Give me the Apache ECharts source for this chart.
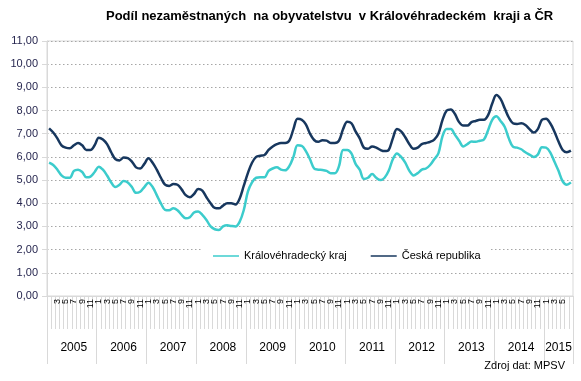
<!DOCTYPE html>
<html>
<head>
<meta charset="utf-8">
<script src="https://cdn.jsdelivr.net/npm/echarts@6/dist/echarts.min.js"></script>
<style>html,body{margin:0;padding:0;background:#fff;}#c{width:581px;height:381px;}</style>
</head>
<body>
<div id="c"></div>
<script>
var years = ['2005','2006','2007','2008','2009','2010','2011','2012','2013','2014','2015'];
var monthsInYear = [12,12,12,12,12,12,12,12,12,12,7];
var seriesNames = ['Královéhradecký kraj', 'Česká republika'];
var yTickLabels = ['0,00','1,00','2,00','3,00','4,00','5,00','6,00','7,00','8,00','9,00','10,00','11,00'];

var hkValues = [
  5.75,5.65,5.45,5.2,5.1,5.1,5.4,5.45,5.35,5.12,5.15,5.35,
  5.58,5.45,5.2,4.9,4.7,4.8,4.96,4.9,4.7,4.45,4.5,4.7,
  4.89,4.7,4.35,4.0,3.72,3.7,3.78,3.7,3.5,3.35,3.4,3.6,
  3.64,3.5,3.28,3.0,2.88,2.85,3.0,3.05,3.02,3.0,3.2,3.7,
  4.5,4.9,5.1,5.12,5.12,5.4,5.5,5.55,5.45,5.42,5.6,6.0,
  6.5,6.48,6.25,5.9,5.5,5.45,5.44,5.4,5.3,5.3,5.6,6.3,
  6.3,6.15,5.7,5.45,5.05,5.1,5.26,5.1,5.0,5.1,5.4,5.9,
  6.15,6.0,5.75,5.4,5.2,5.3,5.45,5.5,5.65,5.9,6.15,6.9,
  7.2,7.2,6.95,6.7,6.45,6.55,6.66,6.65,6.7,6.75,7.15,7.6,
  7.75,7.55,7.3,6.8,6.44,6.4,6.33,6.2,6.1,6.0,6.1,6.42,
  6.4,6.2,5.8,5.4,4.95,4.8,4.9
];
var czValues = [
  7.23,7.05,6.8,6.5,6.4,6.37,6.5,6.6,6.5,6.3,6.3,6.5,
  6.83,6.75,6.55,6.2,5.9,5.85,5.97,5.95,5.8,5.55,5.5,5.7,
  5.94,5.75,5.45,5.1,4.8,4.75,4.83,4.8,4.6,4.35,4.26,4.4,
  4.62,4.55,4.26,4.0,3.8,3.78,3.9,4.0,4.0,3.95,4.2,4.75,
  5.3,5.75,6.0,6.05,6.08,6.3,6.45,6.55,6.6,6.6,6.7,7.2,
  7.65,7.6,7.4,7.0,6.73,6.65,6.72,6.7,6.6,6.6,6.7,7.2,
  7.52,7.45,7.1,6.8,6.4,6.35,6.45,6.4,6.3,6.25,6.3,6.8,
  7.2,7.1,6.85,6.55,6.35,6.4,6.55,6.6,6.65,6.75,7.0,7.6,
  8.0,8.05,7.85,7.5,7.35,7.35,7.5,7.55,7.6,7.6,7.8,8.3,
  8.67,8.5,8.1,7.7,7.45,7.42,7.45,7.38,7.2,7.05,7.2,7.6,
  7.65,7.45,7.1,6.66,6.3,6.2,6.27
];

var categories = [];
var yearStart = [];
years.forEach(function (y, yi) {
  yearStart.push(categories.length);
  for (var m = 1; m <= monthsInYear[yi]; m++) {
    categories.push(String(m));
  }
});
var yearLabelIndex = {};
years.forEach(function (y, yi) {
  var idx = yearStart[yi] + Math.floor((monthsInYear[yi] - 1) / 2);
  yearLabelIndex[idx] = { year: y, odd: monthsInYear[yi] % 2 === 1 };
});

var FONT = '"Liberation Sans", Arial, sans-serif';
var chart = echarts.init(document.getElementById('c'), null, { renderer: 'canvas' });
chart.setOption({
  animation: false,
  backgroundColor: '#ffffff',
  textStyle: { fontFamily: FONT },
  title: [
    {
      text: 'Podíl nezaměstnaných  na obyvatelstvu  v Královéhradeckém  kraji a ČR',
      left: 101, top: 5,
      textStyle: { fontSize: 13, fontWeight: 'bold', color: '#000', fontFamily: FONT }
    },
    {
      text: 'Zdroj dat: MPSV',
      right: 11, top: 355,
      textStyle: { fontSize: 11, fontWeight: 'normal', color: '#000', fontFamily: FONT }
    }
  ],
  legend: {
    data: seriesNames,
    left: 203, top: 245,
    backgroundColor: '#ffffff',
    padding: [4, 10, 4, 10],
    icon: 'rect',
    itemWidth: 26, itemHeight: 1.5, itemGap: 24,
    textStyle: { fontSize: 11, color: '#000', fontFamily: FONT, lineHeight: 14 }
  },
  grid: {
    left: 47, right: 8, top: 41, bottom: 85,
    outerBoundsMode: 'none', containLabel: false,
    show: true, borderColor: '#d9d9d9', borderWidth: 1
  },
  xAxis: [
    {
      type: 'category', data: categories, position: 'bottom', boundaryGap: true,
      axisLine: { show: true, lineStyle: { color: '#d9d9d9', width: 1 } },
      axisTick: { show: true, interval: 0, length: 33, lineStyle: { color: '#d9d9d9' } },
      axisLabel: {
        interval: 1, rotate: 90, fontSize: 9, color: '#000', margin: 3, fontFamily: FONT
      },
      splitLine: { show: false }
    },
    {
      type: 'category', data: categories, position: 'bottom', boundaryGap: true,
      axisLine: { show: false },
      axisTick: {
        show: true, length: 68, lineStyle: { color: '#d9d9d9' },
        interval: function (index) { return yearStart.indexOf(index) >= 0; }
      },
      axisLabel: {
        show: true, margin: 46, fontSize: 12, color: '#000', fontFamily: FONT,
        interval: function (index) { return !!yearLabelIndex[index]; },
        formatter: function (v, index) {
          var o = yearLabelIndex[index];
          if (!o) return '';
          return o.odd ? '{b|' + o.year + '}' : '{a|' + o.year + '}';
        },
        rich: {
          a: { fontSize: 12, color: '#000', fontFamily: FONT, padding: [0, 0, 0, 8] },
          b: { fontSize: 12, color: '#000', fontFamily: FONT }
        }
      },
      splitLine: { show: false }
    }
  ],
  yAxis: {
    type: 'value', min: 0, max: 11, interval: 1,
    name: '%', nameLocation: 'middle', nameGap: 33, nameRotate: 90,
    nameTextStyle: { fontSize: 11, color: '#000', fontFamily: FONT },
    axisLine: { show: true, lineStyle: { color: '#d9d9d9' } },
    axisTick: { show: true, length: 5, lineStyle: { color: '#d9d9d9' } },
    axisLabel: {
      fontSize: 11, color: '#26264f', margin: 9, fontFamily: FONT,
      formatter: function (v) { return yTickLabels[Math.round(v)]; }
    },
    splitLine: { show: true, lineStyle: { color: '#a6a6a6', type: [1.5, 2.5], width: 1 } }
  },
  series: [
    {
      name: seriesNames[0], type: 'line', data: hkValues, xAxisIndex: 0,
      smooth: 0.35, symbol: 'none',
      lineStyle: { color: '#3ccccc', width: 2.5 },
      itemStyle: { color: '#3ccccc' }
    },
    {
      name: seriesNames[1], type: 'line', data: czValues, xAxisIndex: 0,
      smooth: 0.35, symbol: 'none',
      lineStyle: { color: '#17375e', width: 2.5 },
      itemStyle: { color: '#17375e' }
    }
  ]
});
</script>
</body>
</html>
